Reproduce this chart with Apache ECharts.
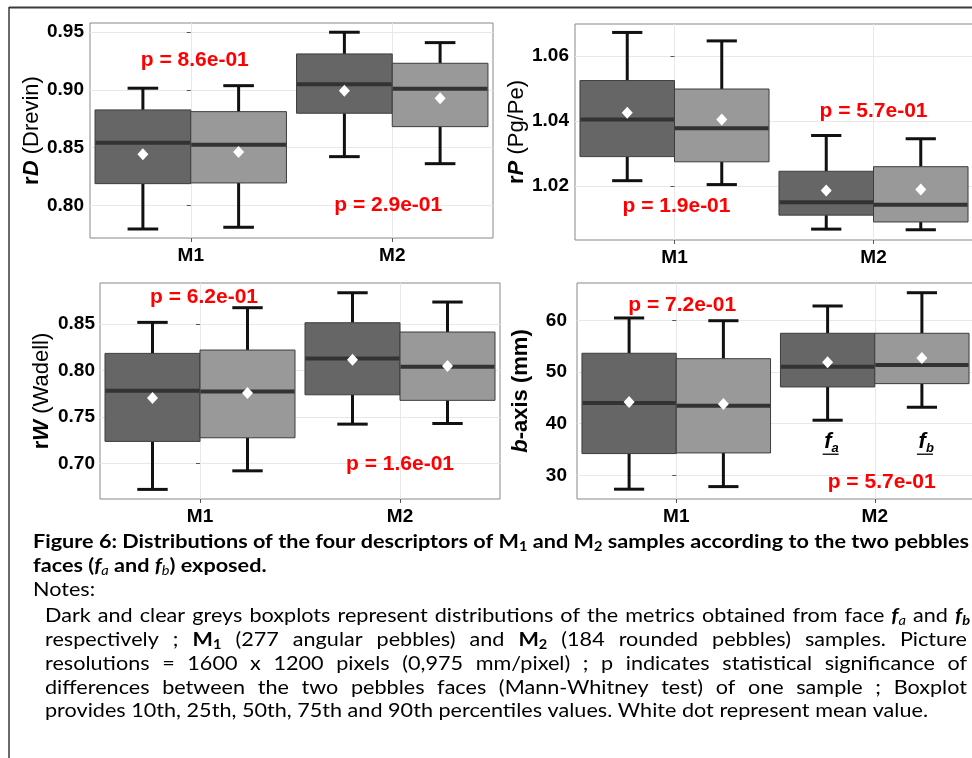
<!DOCTYPE html>
<html><head><meta charset="utf-8">
<script src="https://cdn.jsdelivr.net/npm/echarts@6/dist/echarts.min.js"></script>
<style>html,body{margin:0;padding:0;background:#fff}#c{width:972px;height:758px}</style>
</head><body><div id="c"></div>
<script>
// ---------------- DATA ----------------
const categories = ['M1', 'M2'];
// boxplot stats per category: [10th, 25th, 50th, 75th, 90th percentile]
const rD_fa = [[0.7795, 0.8188, 0.8543, 0.8827, 0.9015], [0.8422, 0.8798, 0.9049, 0.9312, 0.9500]];
const rD_fb = [[0.7810, 0.8194, 0.8526, 0.8812, 0.9037], [0.8361, 0.8682, 0.9011, 0.9231, 0.9410]];
const rD_mean_fa = [0.8443, 0.8994];
const rD_mean_fb = [0.8463, 0.8928];
const rD_p = ['p = 8.6e-01', 'p = 2.9e-01'];
const rD_ticks = [0.80, 0.85, 0.90, 0.95];

const rP_fa = [[1.0216, 1.0290, 1.0404, 1.0524, 1.0672], [1.0067, 1.0110, 1.0150, 1.0245, 1.0355]];
const rP_fb = [[1.0204, 1.0274, 1.0377, 1.0498, 1.0646], [1.0065, 1.0089, 1.0142, 1.0259, 1.0345]];
const rP_mean_fa = [1.0425, 1.0186];
const rP_mean_fb = [1.0404, 1.0189];
const rP_p = ['p = 1.9e-01', 'p = 5.7e-01'];
const rP_ticks = [1.02, 1.04, 1.06];

const rW_fa = [[0.6719, 0.7236, 0.7781, 0.8184, 0.8518], [0.7422, 0.7738, 0.8130, 0.8514, 0.8837]];
const rW_fb = [[0.6919, 0.7275, 0.7774, 0.8220, 0.8676], [0.7429, 0.7678, 0.8040, 0.8414, 0.8737]];
const rW_mean_fa = [0.7703, 0.8116];
const rW_mean_fb = [0.7756, 0.8048];
const rW_p = ['p = 6.2e-01', 'p = 1.6e-01'];
const rW_ticks = [0.70, 0.75, 0.80, 0.85];

const b_fa = [[27.31, 34.20, 44.00, 53.62, 60.45], [40.66, 47.10, 51.03, 57.49, 62.77]];
const b_fb = [[27.81, 34.33, 43.48, 52.57, 59.92], [43.17, 47.74, 51.35, 57.49, 65.34]];
const b_mean_fa = [44.20, 51.88];
const b_mean_fb = [43.81, 52.71];
const b_p = ['p = 7.2e-01', 'p = 5.7e-01'];
const b_ticks = [30, 40, 50, 60];
const faceLabels = ['a', 'b'];

// ---------------- LAYOUT / STYLE ----------------
const FONT = 'Liberation Sans';
const BOX_FRAC = 0.475, CAP_FRAC = 0.32;
const DARK = '#666666', LIGHT = '#999999';

const panels = [
  { grid: {left: 90, top: 23, width: 403, height: 215}, yMin: 0.7717, yMax: 0.958, step: 0.05, ticks: rD_ticks, dec: 2,
    name: '{b|r}{bi|D} (Drevin)', fa: rD_fa, fb: rD_fb, ma: rD_mean_fa, mb: rD_mean_fb, p: rD_p,
    pPos: [[0.02, 0.9254], [0.98, 0.800]], margin: 6, nameGap: 47 },
  { grid: {left: 575, top: 24, width: 398, height: 216}, yMin: 1.00335, yMax: 1.0698, step: 0.02, ticks: rP_ticks, dec: 2,
    name: '{b|r}{bi|P} (Pg/Pe)', fa: rP_fa, fb: rP_fb, ma: rP_mean_fa, mb: rP_mean_fb, p: rP_p,
    pPos: [[0.01, 1.0138], [1.0, 1.0430]], margin: 6, nameGap: 47 },
  { grid: {left: 100, top: 283, width: 400, height: 216}, yMin: 0.66156, yMax: 0.8942, step: 0.05, ticks: rW_ticks, dec: 2,
    name: '{b|r}{bi|W} (Wadell)', fa: rW_fa, fb: rW_fb, ma: rW_mean_fa, mb: rW_mean_fb, p: rW_p,
    pPos: [[0.02, 0.8794], [1.0, 0.6989]], margin: 5, nameGap: 47 },
  { grid: {left: 577, top: 283, width: 397, height: 216}, yMin: 25.41, yMax: 67.22, step: 10, ticks: b_ticks, dec: 0,
    name: '{bi|b}{b|-axis (mm)}', fa: b_fa, fb: b_fb, ma: b_mean_fa, mb: b_mean_fb, p: b_p,
    pPos: [[0.03, 62.96], [1.035, 28.65]], margin: 10, nameGap: 45, faces: 36.4 }
];

function boxRender(side, fill) {
  return function (params, api) {
    const cat = api.value(0);
    const band = api.size([1, 0])[0];
    const bw = band * BOX_FRAC;
    const cx = api.coord([cat, api.value(3)])[0] + side * bw / 2;
    const y = k => api.coord([cat, api.value(k)])[1];
    const yLo = y(1), yQ1 = y(2), yMed = y(3), yQ3 = y(4), yHi = y(5), yMean = y(6);
    const cap = bw * CAP_FRAC;
    const ws = {stroke: '#111111', lineWidth: 3};
    return { type: 'group', children: [
      {type: 'line', shape: {x1: cx, y1: yQ1, x2: cx, y2: yLo}, style: ws},
      {type: 'line', shape: {x1: cx, y1: yQ3, x2: cx, y2: yHi}, style: ws},
      {type: 'line', shape: {x1: cx - cap / 2, y1: yLo, x2: cx + cap / 2, y2: yLo}, style: ws},
      {type: 'line', shape: {x1: cx - cap / 2, y1: yHi, x2: cx + cap / 2, y2: yHi}, style: ws},
      {type: 'rect', shape: {x: cx - bw / 2, y: yQ3, width: bw, height: yQ1 - yQ3}, style: {fill: fill, stroke: '#3d3d3d', lineWidth: 1}},
      {type: 'line', shape: {x1: cx - bw / 2 + 0.5, y1: yMed, x2: cx + bw / 2 - 0.5, y2: yMed}, style: {stroke: '#333333', lineWidth: 4}},
      {type: 'polygon', shape: {points: [[cx, yMean - 6], [cx + 5.5, yMean], [cx, yMean + 6], [cx - 5.5, yMean]]}, style: {fill: '#ffffff'}}
    ]};
  };
}

const grids = [], xAxes = [], yAxes = [], series = [];
panels.forEach((P, i) => {
  grids.push(Object.assign({show: true, backgroundColor: '#fff', borderColor: '#888888', borderWidth: 1,
    containLabel: false, outerBoundsMode: 'none'}, P.grid));
  xAxes.push({
    type: 'value', gridIndex: i, min: -0.5, max: 1.5, minInterval: 1, maxInterval: 1,
    axisLine: {show: false},
    axisTick: {show: true, length: 4, lineStyle: {color: '#555'}, customValues: [0, 1]},
    axisLabel: {show: true, customValues: [0, 1], margin: 8, formatter: v => categories[Math.round(v)] || '',
      fontFamily: FONT, fontWeight: 'bold', fontSize: 19, color: '#000'},
    splitLine: {show: true, lineStyle: {color: '#e8e8e8', width: 1}}
  });
  yAxes.push({
    type: 'value', gridIndex: i, min: P.yMin, max: P.yMax, minInterval: P.step, maxInterval: P.step,
    axisLine: {show: false},
    axisTick: {show: true, length: 4, lineStyle: {color: '#555'}, customValues: P.ticks},
    axisLabel: {show: true, customValues: P.ticks, margin: P.margin, formatter: v => v.toFixed(P.dec),
      fontFamily: FONT, fontWeight: 'bold', fontSize: 19, color: '#000'},
    splitLine: {show: true, lineStyle: {color: '#e8e8e8', width: 1}},
    name: P.name, nameLocation: 'middle', nameRotate: 90, nameGap: P.nameGap,
    nameTextStyle: {fontFamily: FONT, fontSize: 22, color: '#000',
      rich: {b: {fontFamily: FONT, fontSize: 22, fontWeight: 'bold', color: '#000'},
             bi: {fontFamily: FONT, fontSize: 22, fontWeight: 'bold', fontStyle: 'italic', color: '#000'}}}
  });
  const mk = (stats, means) => stats.map((s, c) => [c].concat(s).concat([means[c]]));
  series.push({type: 'custom', xAxisIndex: i, yAxisIndex: i, clip: false, renderItem: boxRender(-1, DARK),
    encode: {x: 0, y: [1, 2, 3, 4, 5, 6]}, data: mk(P.fa, P.ma), z: 3});
  series.push({type: 'custom', xAxisIndex: i, yAxisIndex: i, clip: false, renderItem: boxRender(1, LIGHT),
    encode: {x: 0, y: [1, 2, 3, 4, 5, 6]}, data: mk(P.fb, P.mb), z: 3});
  series.push({type: 'custom', xAxisIndex: i, yAxisIndex: i, clip: false, z: 5,
    encode: {x: 0, y: 1}, data: P.pPos,
    renderItem: (params, api) => {
      const pt = api.coord([api.value(0), api.value(1)]);
      return {type: 'text', x: pt[0], y: pt[1], style: {text: P.p[params.dataIndex], fontFamily: FONT,
        fontWeight: 'bold', fontSize: 21, fill: '#ff0000', align: 'center', verticalAlign: 'middle'}};
    }});
  if (P.faces != null) {
    series.push({type: 'custom', xAxisIndex: i, yAxisIndex: i, clip: false, z: 5,
      encode: {x: 0, y: 1}, data: faceLabels.map(() => [1, P.faces]),
      renderItem: (params, api) => {
        const band = api.size([1, 0])[0];
        const bw = band * BOX_FRAC;
        const side = params.dataIndex === 0 ? -1 : 1;
        const pt = api.coord([api.value(0), api.value(1)]);
        const cx = pt[0] + side * bw / 2 + 3, cy = pt[1];
        return {type: 'group', children: [
          {type: 'text', x: cx + 1, y: cy, style: {text: 'f', fontFamily: FONT, fontWeight: 'bold', fontStyle: 'italic',
            fontSize: 22, fill: '#000', align: 'right', verticalAlign: 'middle'}},
          {type: 'text', x: cx + 1, y: cy + 6, style: {text: faceLabels[params.dataIndex], fontFamily: FONT, fontWeight: 'bold',
            fontStyle: 'italic', fontSize: 13, fill: '#000', align: 'left', verticalAlign: 'middle'}},
          {type: 'line', shape: {x1: cx - 8, y1: cy + 12, x2: cx + 8, y2: cy + 12}, style: {stroke: '#000', lineWidth: 1.3}}
        ]};
      }});
  }
});

// ---------------- CAPTION ----------------
const CAP_FONT = 'Lato', CAP_SIZE = 18.5, SUB_SIZE = 12.5;
const captionLines = [
  {y: 542, x0: 33, x1: 969, justify: true, runs: [['Figure 6: Distributions of the four descriptors of M', 'b'], ['1', 'bs'], [' and M', 'b'], ['2', 'bs'], [' samples according to the two pebbles', 'b']]},
  {y: 566, x0: 33, runs: [['faces (', 'b'], ['f', 'bi'], ['a', 'is'], [' and ', 'b'], ['f', 'bi'], ['b', 'is'], [') exposed.', 'b']]},
  {y: 590, x0: 33, runs: [['Notes:', '']]},
  {y: 616, x0: 45, x1: 970, justify: true, runs: [['Dark and clear greys boxplots represent distributions of the metrics obtained from face ', ''], ['f', 'bi'], ['a', 'is'], [' and ', ''], ['f', 'bi'], ['b', 'bis']]},
  {y: 640, x0: 45, x1: 967, justify: true, runs: [['respectively ; ', ''], ['M', 'b'], ['1', 'bs'], [' (277 angular pebbles) and ', ''], ['M', 'b'], ['2', 'bs'], [' (184 rounded pebbles) samples. Picture', '']]},
  {y: 664, x0: 45, x1: 967, justify: true, runs: [['resolutions = 1600 x 1200 pixels (0,975 mm/pixel) ; p indicates statistical significance of', '']]},
  {y: 688, x0: 45, x1: 967, justify: true, runs: [['differences between the two pebbles faces (Mann-Whitney test) of one sample ; Boxplot', '']]},
  {y: 711, x0: 45, x1: 928, runs: [['provides 10th, 25th, 50th, 75th and 90th percentiles values. White dot represent mean value.', '']], fit: true}
];
const mctx = document.createElement('canvas').getContext('2d');
function fontOf(st) {
  return (st.includes('i') ? 'italic ' : '') + (st.includes('b') ? 'bold ' : '') + (st.includes('s') ? SUB_SIZE : CAP_SIZE) + 'px ' + CAP_FONT;
}
function meas(t, st) { mctx.font = fontOf(st); return mctx.measureText(t).width; }
function toWords(runs) {
  const words = []; let cur = [];
  runs.forEach(([text, st]) => {
    text.split(' ').forEach((p, j) => {
      if (j > 0 && cur.length) { words.push(cur); cur = []; }
      if (p) cur.push({t: p, st: st});
    });
  });
  if (cur.length) words.push(cur);
  return words;
}
function wordW(w) { return w.reduce((s, p) => s + meas(p.t, p.st), 0); }
// horizontal compression so Lato approximates Calibri widths
const fitLine = captionLines.find(l => l.fit);
const fitWords = toWords(fitLine.runs);
const natFit = fitWords.reduce((s, w) => s + wordW(w), 0) + (fitWords.length - 1) * meas(' ', '');
const K = (fitLine.x1 - fitLine.x0) / natFit;

const graphics = [
  {type: 'line', shape: {x1: 9, y1: 7.5, x2: 972, y2: 7.5}, style: {stroke: '#3a3a3a', lineWidth: 2}},
  {type: 'line', shape: {x1: 9, y1: 7, x2: 9, y2: 758}, style: {stroke: '#3a3a3a', lineWidth: 1.5}}
];
captionLines.forEach(L => {
  const words = toWords(L.runs);
  const widths = words.map(w => wordW(w) * K);
  const sum = widths.reduce((a, b) => a + b, 0);
  const bold = L.runs[0][1].includes('b');
  let gap = meas(' ', bold ? 'b' : '') * K;
  if (L.justify && words.length > 1) gap = (L.x1 - L.x0 - sum) / (words.length - 1);
  let x = L.x0;
  words.forEach((w, wi) => {
    w.forEach(p => {
      const sub = p.st.includes('s');
      graphics.push({type: 'text', x: x, y: L.y + (sub ? 5 : 0), scaleX: K, silent: true,
        style: {text: p.t, fontFamily: CAP_FONT, fontSize: sub ? SUB_SIZE : CAP_SIZE,
          fontWeight: p.st.includes('b') ? 'bold' : 'normal', fontStyle: p.st.includes('i') ? 'italic' : 'normal',
          fill: '#000', align: 'left', verticalAlign: 'middle'}});
      x += meas(p.t, p.st) * K;
    });
    x += gap;
  });
});

const chart = echarts.init(document.getElementById('c'), null, {renderer: 'canvas'});
chart.setOption({
  animation: false,
  backgroundColor: '#ffffff',
  grid: grids, xAxis: xAxes, yAxis: yAxes, series: series,
  graphic: graphics
});
</script></body></html>
